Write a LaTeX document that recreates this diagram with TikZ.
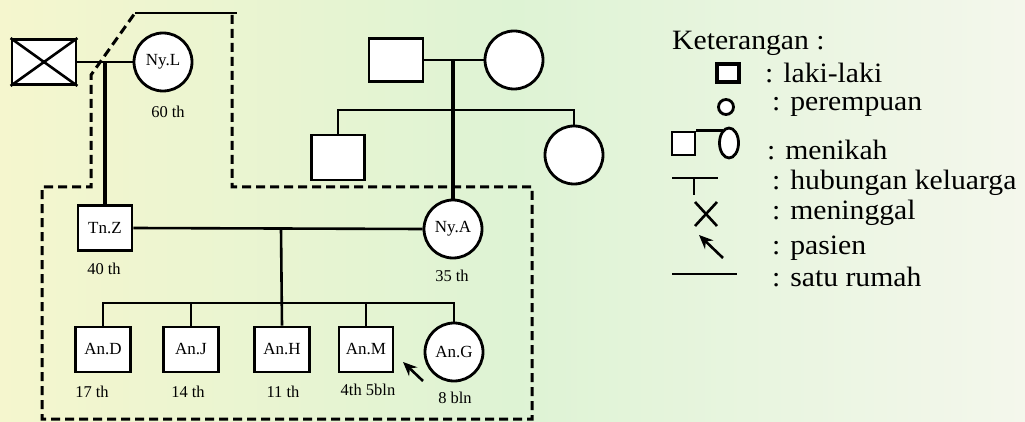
\documentclass[tikz,border=0pt]{standalone}
\usepackage{fontspec}
\setmainfont{Liberation Serif}
\newfontfamily\legfont[FakeStretch=1.06]{Liberation Serif}
\usetikzlibrary{arrows.meta,shapes.geometric,calc}
\tikzset{
  base/.style={draw=black, line width=2.8pt, fill=white, inner sep=0pt, font=\fontsize{17}{19}\selectfont},
  male/.style={base, rectangle, minimum width=54pt, minimum height=45pt},
  female/.style={base, circle, minimum size=58pt},
  age/.style={inner sep=0pt, font=\fontsize{16.5}{19}\selectfont},
  rel/.style={line width=2.6pt},
  desc/.style={line width=4.5pt},
  house/.style={line width=3pt, dash pattern=on 9pt off 5pt},
  patient/.style={line width=2.6pt, -{Stealth[length=14pt,width=12pt]}},
  legtxt/.style={anchor=west, inner sep=0pt, font=\legfont\fontsize{28}{30}\selectfont},
}
\begin{document}
\begin{tikzpicture}[x=1pt, y=-1pt]
\useasboundingbox (0,0) rectangle (1025,422);
\shade[left color={rgb,255:red,245;green,246;blue,206}, right color={rgb,255:red,244;green,247;blue,236}, middle color={rgb,255:red,222;green,243;blue,212}] (0,0) rectangle (1025,422);

% household boundary
\draw[line width=2.8pt] (135,13) -- (237,13);
\draw[house] (232,15) -- (232,187) -- (532,187) -- (532,419) -- (42,419) -- (42,187) -- (91,187) -- (91,75) -- (135,13);

% generation I (left)
\node[male, minimum width=64pt] (dec) at (44,62) {};
\draw[line width=2.6pt] (dec.north west) -- (dec.south east) (dec.north east) -- (dec.south west);
\node[female] (nyl) at (163,62) {Ny.L};
\node[age] (anyl) at (168,112) {60 th};
\draw[rel] (dec.east) -- (nyl.west);
\coordinate (m1) at (105,62);

% generation I (right)
\node[male, minimum height=43pt] (gf) at (396,60) {};
\node[female] (gm) at (514,60) {};
\draw[rel] (gf.east) -- (gm.west);
\coordinate (m3) at (453,60);

% generation II
\node[male, minimum width=53pt] (sibm) at (338,157.5) {};
\node[female] (sibf) at (574,155) {};
\coordinate (s3) at (453,110);
\draw[rel] (sibm.north) -- (sibm.north |- s3) -- (sibf.north |- s3) -- (sibf.north);

\node[male] (tnz) at (105,228) {Tn.Z};
\node[age] (atnz) at (104,269) {40 th};
\node[female] (nya) at (453,229) {Ny.A};
\node[age] (anya) at (452,276) {35 th};
\draw[desc] (m1) -- (tnz.north);
\draw[desc] (m3) -- (nya.north);
\draw[rel] (tnz.east) -- (nya.west);
\coordinate (m2) at (281,229);

% generation III
\node[male, minimum width=55pt] (and) at (103,349.5) {An.D};
\node[male, minimum width=55pt] (anj) at (191,349.5) {An.J};
\node[male, minimum width=55pt] (anh) at (282,349.5) {An.H};
\node[male] (anm) at (366,349.5) {An.M};
\node[female] (ang) at (454,352) {An.G};
\node[age] (aand) at (92,392) {17 th};
\node[age] (aanj) at (188,392) {14 th};
\node[age] (aanh) at (283,392) {11 th};
\node[age] (aanm) at (368,390) {4th 5bln};
\node[age] (aang) at (455,398) {8 bln};

\coordinate (s1) at (281,303);
\draw[rel] (m2) -- (anh.north);
\draw[rel] (and.north) -- (and.north |- s1) -- (ang.north |- s1) -- (ang.north);
\draw[rel] (anj.north) -- (anj.north |- s1);
\draw[rel] (anm.north) -- (anm.north |- s1);

\coordinate (pt) at (423,381);
\draw[patient] (pt) -- (403,362);

% legend
\node[legtxt] (kt) at (672,43) {Keterangan :};
\node[draw, line width=4pt, fill=white, minimum width=22pt, minimum height=18pt, inner sep=0pt] (lm) at (728,73) {};
\node[legtxt] (tlm) at (765,73) {: laki-laki};
\node[draw, line width=2.8pt, fill=white, circle, minimum size=15pt, inner sep=0pt] (lf) at (726,107) {};
\node[legtxt] (tlf) at (772,107) {: perempuan};
\node[draw, line width=2.8pt, fill=white, minimum width=23pt, minimum height=23pt, inner sep=0pt] (lms) at (683.5,143.5) {};
\node[draw, line width=2.8pt, fill=white, ellipse, minimum width=19pt, minimum height=30pt, inner sep=0pt] (lmc) at (729,143) {};
\draw[line width=2.6pt] (lms.north east) -- ++(27,0) coordinate (lmj);
\node[legtxt] (tmk) at (767,150) {: menikah};
\coordinate (lh1) at (672,178);
\coordinate (lh2) at (718,178);
\coordinate (lh3) at (694,195);
\draw[line width=2.6pt] (lh1) -- (lh2) (lh3) -- (lh3 |- lh1);
\node[legtxt] (thk) at (772,183) {: hubungan keluarga};
\coordinate (lx) at (706,214);
\draw[line width=2.6pt] ($(lx)+(-11,-12)$) -- ($(lx)+(11,12)$) ($(lx)+(11,-12)$) -- ($(lx)+(-11,12)$);
\node[legtxt] (tmg) at (772,213) {: meninggal};
\coordinate (lp) at (723,258);
\draw[patient] (lp) -- (699,235);
\node[legtxt] (tps) at (772,248) {: pasien};
\coordinate (lr1) at (672,274);
\coordinate (lr2) at (737,274);
\draw[line width=2.8pt] (lr1) -- (lr2);
\node[legtxt] (tsr) at (772,277) {: satu rumah};
\end{tikzpicture}
\end{document}
